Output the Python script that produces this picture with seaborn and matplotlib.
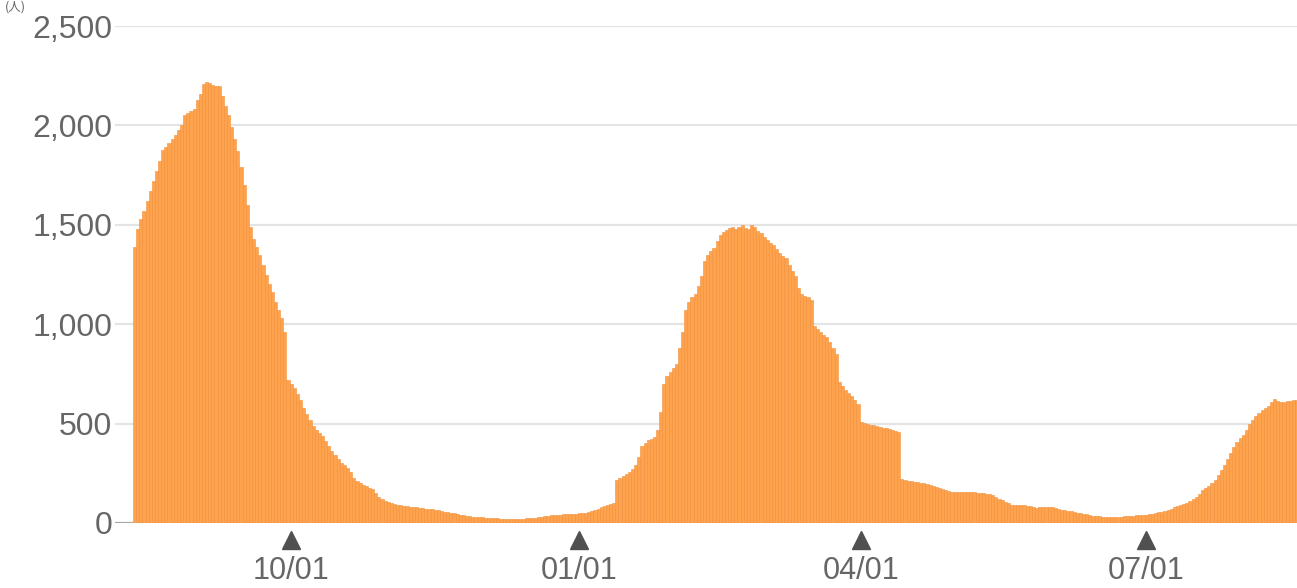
import numpy as np
import pandas as pd
import seaborn as sns
import matplotlib
matplotlib.use("Agg")
import matplotlib.pyplot as plt

# daily values, one list per month (starts 2021-08-12)
aug21 = [1390, 1480, 1530, 1570, 1620, 1670, 1720, 1770, 1820, 1876,
         1890, 1910, 1930, 1950, 1977, 2000, 2052, 2060, 2070, 2080]
sep21 = [2130, 2160, 2210, 2220, 2215, 2205, 2200, 2200, 2150, 2100,
         2050, 1990, 1930, 1870, 1790, 1700, 1600, 1490, 1430, 1390,
         1350, 1300, 1250, 1200, 1160, 1110, 1070, 1030, 960, 720]
oct21 = [700, 680, 650, 620, 580, 550, 520, 490, 470, 455,
         440, 410, 385, 360, 340, 320, 300, 290, 275, 255,
         225, 210, 200, 192, 185, 178, 170, 150, 130, 120, 112]
nov21 = [106, 100, 96, 93, 91, 88, 85, 82, 80, 78,
         76, 74, 72, 70, 68, 66, 64, 60, 57, 53,
         50, 48, 45, 42, 40, 37, 35, 32, 30, 29]
dec21 = [28, 27, 26, 25, 24, 23, 22, 22, 21, 21,
         21, 21, 22, 22, 23, 24, 25, 27, 28, 30,
         33, 36, 39, 40, 41, 42, 43, 44, 45, 46, 47]
jan22 = [48, 50, 52, 55, 60, 65, 70, 78, 85, 90,
         95, 100, 215, 225, 235, 245, 255, 270, 290, 330,
         385, 400, 415, 425, 435, 470, 560, 700, 740, 760, 780]
feb22 = [800, 880, 960, 1070, 1110, 1135, 1150, 1190, 1240, 1320,
         1350, 1370, 1385, 1420, 1450, 1462, 1475, 1485, 1490, 1480,
         1490, 1500, 1485, 1480, 1500, 1490, 1470, 1460]
mar22 = [1440, 1425, 1410, 1400, 1380, 1360, 1345, 1335, 1300, 1270,
         1240, 1180, 1150, 1140, 1135, 1120, 990, 975, 960, 945,
         935, 910, 880, 850, 710, 690, 670, 655, 640, 620, 600]
apr22 = [510, 505, 500, 495, 493, 490, 485, 480, 478, 475,
         470, 465, 460, 220, 215, 213, 210, 207, 205, 203,
         200, 195, 190, 185, 182, 178, 172, 168, 160, 158]
may22 = [157, 156, 155, 156, 157, 155, 154, 153, 152, 150,
         147, 145, 140, 132, 122, 116, 108, 100, 92, 90,
         91, 92, 91, 88, 84, 80, 76, 78, 80, 81, 80]
jun22 = [78, 75, 70, 66, 63, 60, 58, 55, 52, 50,
         47, 43, 40, 37, 35, 33, 32, 31, 30, 30,
         30, 31, 32, 33, 34, 35, 37, 38, 40, 41]
jul22 = [42, 44, 47, 50, 53, 56, 60, 65, 72, 78,
         84, 90, 96, 102, 110, 120, 132, 145, 165, 178,
         188, 200, 218, 240, 265, 290, 320, 350, 380, 405, 430]
aug22 = [445, 470, 500, 520, 540, 555, 568, 580, 590, 610,
         622, 615, 610, 608, 612, 615, 618, 620]

tick_dates = ["2021-10-01", "2022-01-01", "2022-04-01", "2022-07-01"]
tick_labels = ["10/01", "01/01", "04/01", "07/01"]
y_ticks = [0, 500, 1000, 1500, 2000, 2500]

values = (aug21 + sep21 + oct21 + nov21 + dec21 + jan22 + feb22 + mar22
          + apr22 + may22 + jun22 + jul22 + aug22)
dates = pd.date_range("2021-08-12", periods=len(values), freq="D")
df = pd.DataFrame({"date": dates, "value": values, "pos": np.arange(len(values))})

sns.set_style("white")
plt.rcParams["font.family"] = ["Liberation Sans", "Noto Sans CJK JP", "DejaVu Sans"]

fig = plt.figure(figsize=(12.97, 5.88), dpi=100)
ax = fig.add_axes([115 / 1297, 65 / 588, 1 - 115 / 1297, (523 - 26) / 588])

sns.barplot(data=df, x="pos", y="value", color="#ffa24c", width=1.0,
            edgecolor="#f0903c", linewidth=0.4, saturation=1, ax=ax, zorder=3)

ax.set_ylim(0, 2500)
ax.set_xlim(-6.25, 371.15)
ax.set_yticks(y_ticks)
ax.set_yticklabels([f"{v:,}" for v in y_ticks])
for v in y_ticks[1:]:
    ax.axhline(v, color="#e4e4e4", lw=1.6, zorder=1)
ax.axhline(0, color="#a8a8a8", lw=1.6, zorder=2)

tick_pos = [int((pd.Timestamp(d) - dates[0]).days) for d in tick_dates]
ax.set_xticks(tick_pos)
ax.set_xticklabels(tick_labels)
ax.tick_params(axis="x", length=0, pad=24, labelsize=22, labelcolor="#666666")
ax.tick_params(axis="y", length=0, pad=2, labelsize=23, labelcolor="#666666")
ax.plot(tick_pos, [-17 / 497] * len(tick_pos), marker="^", ls="none",
        ms=13, color="#505050", transform=ax.get_xaxis_transform(), clip_on=False)

ax.set_xlabel("")
ax.set_ylabel("")
for s in ax.spines.values():
    s.set_visible(False)

fig.text(0.004, 1 - 1 / 588, "(人)", fontsize=9, color="#666666", va="top",
         family=["Noto Sans CJK JP", "DejaVu Sans"])

fig.savefig("out.png", dpi=100)
